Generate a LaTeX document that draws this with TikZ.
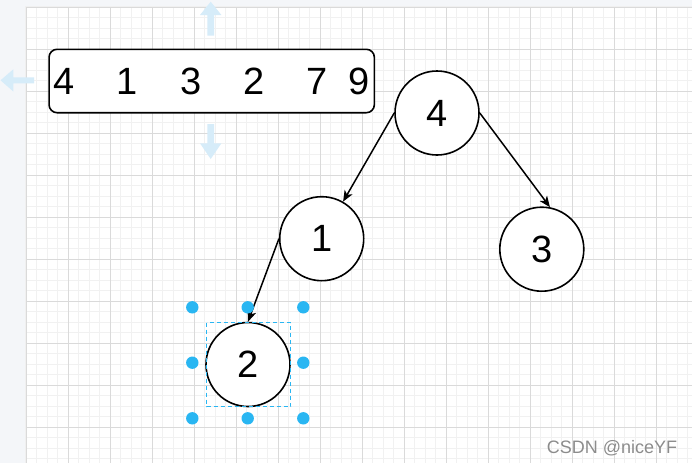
\documentclass[tikz,border=0pt]{standalone}
\usepackage{fontspec}
\setmainfont{Liberation Sans}
\usetikzlibrary{arrows.meta}
\definecolor{outside}{HTML}{F4F6F9}
\definecolor{minorgrid}{HTML}{F1F1F1}
\definecolor{majorgrid}{HTML}{DADADA}
\definecolor{handle}{HTML}{29B6F2}
\definecolor{hoverarrow}{HTML}{D6ECF9}
\definecolor{wm}{HTML}{8C8C8C}
\tikzset{
  treenode/.style={circle, draw=black, line width=1.6pt, fill=white, minimum size=84pt, inner sep=0pt, font=\fontsize{38}{40}\selectfont},
  arraybox/.style={draw=black, line width=1.6pt, fill=white, rounded corners=8pt, minimum width=325.3pt, minimum height=63.4pt, inner sep=0pt, font=\fontsize{38}{40}\selectfont},
  edge/.style={draw=black, line width=1.5pt, -{Stealth[length=11pt,width=9pt,inset=3pt]}},
  minorline/.style={draw=minorgrid, line width=0.8pt},
  majorline/.style={draw=majorgrid, line width=0.9pt},
  selbox/.style={draw=handle, line width=1.2pt, dash pattern=on 4pt off 3pt},
  handledot/.style={fill=handle},
  hover/.style={fill=hoverarrow},
  watermark/.style={text=wm, font=\fontsize{18}{20}\selectfont, inner sep=0pt}
}
\begin{document}
\begin{tikzpicture}[x=1pt,y=-1pt]
\useasboundingbox (0,0) rectangle (692,463);
% background and page
\fill[outside] (0,0) rectangle (692,463);
\fill[black!6] (24.5,5.5) rectangle (692,463);
\fill[white] (26,7) rectangle (692,463);
% minor grid
\foreach \i in {1,...,63} {\draw[minorline] ({26+10.5*\i},7) -- ({26+10.5*\i},463);}
\foreach \j in {1,...,43} {\draw[minorline] (26,{7+10.5*\j}) -- (692,{7+10.5*\j});}
% major grid
\foreach \i in {0,...,15} {\draw[majorline] ({26+42*\i},7) -- ({26+42*\i},463);}
\foreach \j in {0,...,10} {\draw[majorline] (26,{7+42*\j}) -- (692,{7+42*\j});}
% hover arrows
\fill[hover] (207.4,35.7) -- (207.4,15) -- (200,15) -- (210.7,1.7) -- (221.4,15) -- (214,15) -- (214,35.7) -- cycle;
\fill[hover] (207.4,124) -- (207.4,143.3) -- (200,143.3) -- (210.7,159) -- (221.4,143.3) -- (214,143.3) -- (214,124) -- cycle;
\fill[hover] (34,77.3) -- (13.3,77.3) -- (13.3,69.3) -- (0.5,80.3) -- (13.3,91.5) -- (13.3,83.3) -- (34,83.3) -- cycle;
% array box
\node[arraybox] (arr) at (211.7,81) {4\hspace{42.2pt}1\hspace{42.2pt}3\hspace{42.2pt}2\hspace{42.2pt}7\hspace{21.1pt}9};
% tree nodes
\node[treenode] (n4) at (437,113) {4};
\node[treenode] (n1) at (321.7,238.7) {1};
\node[treenode] (n3) at (541.8,249.2) {3};
\node[treenode] (n2) at (248,364.5) {2};
% edges
\draw[edge] (n4.west) -- (n1);
\draw[edge] (n4.east) -- (n3.79);
\draw[edge] (n1.west) -- (n2.north);
% selection
\draw[selbox] (206.5,322.5) rectangle (290.5,406.5);
\foreach \x/\y in {192.3/307.3, 247.7/307.3, 303.3/307.3, 192.3/362.7, 303.3/362.7, 192.3/418.3, 247.7/418.3, 303.3/418.3} {
  \fill[handledot] (\x,\y) circle (6.2pt);
}
% watermark
\node[watermark, anchor=base west] (wmark) at (546.7,453) {CSDN @niceYF};
\end{tikzpicture}
\end{document}
